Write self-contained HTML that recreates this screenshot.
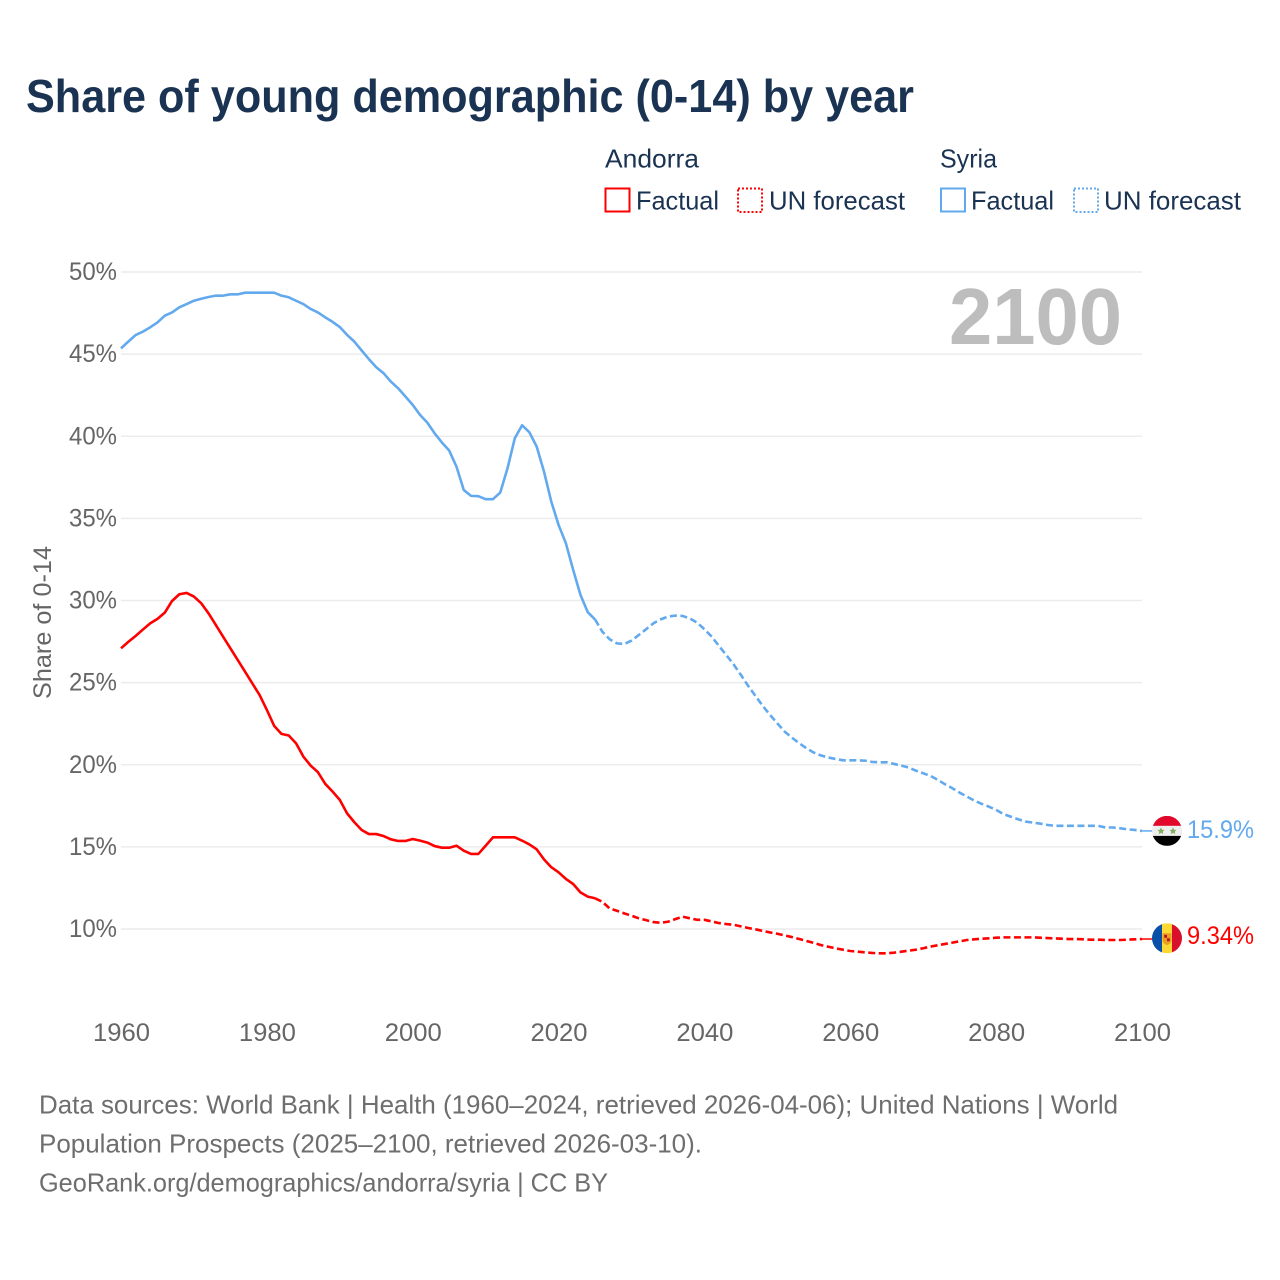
<!DOCTYPE html>
<html lang="en">
<head>
<meta charset="utf-8">
<title>Share of young demographic (0-14) by year</title>
<style>
html,body{margin:0;padding:0;background:#fff;}
svg{display:block;font-family:"Liberation Sans",sans-serif;}
</style>
</head>
<body>
<svg id="chart" xmlns="http://www.w3.org/2000/svg" width="1280" height="1280" viewBox="0 0 1280 1280">
  <rect width="1280" height="1280" fill="#fff"/>
  <text x="26" y="112" font-size="46" font-weight="700" fill="#1a3352" textLength="888" lengthAdjust="spacingAndGlyphs">Share of young demographic (0-14) by year</text>

  <g fill="#1a3352" font-size="26">
    <text x="605" y="167.500" textLength="94" lengthAdjust="spacingAndGlyphs">Andorra</text>
    <rect x="605.500" y="188.500" width="24" height="23" fill="none" stroke="#ff0000" stroke-width="2"/>
    <text x="636" y="209.500" textLength="83" lengthAdjust="spacingAndGlyphs">Factual</text>
    <rect x="738" y="188.500" width="24" height="23.500" fill="none" stroke="#ff0000" stroke-width="2" stroke-dasharray="2 2"/>
    <text x="769" y="209.500" textLength="136" lengthAdjust="spacingAndGlyphs">UN forecast</text>
    <text x="940" y="167.500" textLength="57" lengthAdjust="spacingAndGlyphs">Syria</text>
    <rect x="941" y="188.500" width="24" height="23" fill="none" stroke="#62a9ee" stroke-width="2"/>
    <text x="971" y="209.500" textLength="83" lengthAdjust="spacingAndGlyphs">Factual</text>
    <rect x="1074" y="188.500" width="24" height="23.500" fill="none" stroke="#62a9ee" stroke-width="2" stroke-dasharray="2 2"/>
    <text x="1104" y="209.500" textLength="137" lengthAdjust="spacingAndGlyphs">UN forecast</text>
  </g>

  <g id="grid"></g>
  <g id="yticks"></g>
  <g id="xticks"></g>
  <text transform="translate(51,699) rotate(-90)" font-size="25" fill="#666" textLength="153" lengthAdjust="spacingAndGlyphs">Share of 0-14</text>
  <text id="year-label" x="949" y="344" font-size="80" font-weight="700" fill="#bdbdbd" textLength="173" lengthAdjust="spacingAndGlyphs">2100</text>

  <g id="series"></g>

  <defs>
    <clipPath id="flag-clip"><circle cx="0" cy="0" r="15"/></clipPath>
  </defs>
  <g id="flag-syria">
    <g clip-path="url(#flag-clip)">
      <rect x="-15" y="-15" width="30" height="10" fill="#e2082b"/>
      <rect x="-15" y="-5" width="30" height="10" fill="#eeeeee"/>
      <rect x="-15" y="5" width="30" height="10" fill="#000"/>
      <polygon points="-6,-3.500 -4.800,-1 -2.500,-1 -4.300,0.800 -3.700,3.200 -6,2 -8.300,3.200 -7.700,0.800 -9.500,-1 -7.200,-1" fill="#7fae5f"/>
      <polygon points="6,-3.500 7.200,-1 9.500,-1 7.700,0.800 8.300,3.200 6,2 3.700,3.200 4.300,0.800 2.500,-1 4.800,-1" fill="#7fae5f"/>
    </g>
  </g>
  <g id="flag-andorra">
    <g clip-path="url(#flag-clip)">
      <rect x="-15" y="-15" width="10" height="30" fill="#0a50a8"/>
      <rect x="-5" y="-15" width="10" height="30" fill="#fdd835"/>
      <rect x="5" y="-15" width="10" height="30" fill="#d8102c"/>
      <path d="M-4.500,-5 H4.500 V2 Q4.500,5 0,7 Q-4.500,5 -4.500,2 Z" fill="#e8a020"/>
      <rect x="-2.800" y="-3.500" width="2.800" height="3" fill="#c01030"/>
      <rect x="0" y="0" width="2.800" height="3" fill="#c01030"/>
    </g>
  </g>
  <text id="value-syria" x="1187" y="838" font-size="25" fill="#62a9ee" textLength="67" lengthAdjust="spacingAndGlyphs"></text>
  <text id="value-andorra" x="1187" y="944" font-size="25" fill="#ff0000" textLength="67" lengthAdjust="spacingAndGlyphs"></text>

  <g font-size="26" fill="#6e6e6e">
    <text x="39" y="1113.500" textLength="1079" lengthAdjust="spacingAndGlyphs">Data sources: World Bank | Health (1960–2024, retrieved 2026-04-06); United Nations | World</text>
    <text x="39" y="1152.500" textLength="663" lengthAdjust="spacingAndGlyphs">Population Prospects (2025–2100, retrieved 2026-03-10).</text>
    <text x="39" y="1191.500" textLength="569" lengthAdjust="spacingAndGlyphs">GeoRank.org/demographics/andorra/syria | CC BY</text>
  </g>
</svg>

<script>
const factualStartYear = 1960;
const forecastStartYear = 2025;

const andorraFactual = [
  27.09,27.48,27.84,28.23,28.61,28.88,29.26,29.97,30.38,30.46,
  30.24,29.83,29.22,28.51,27.8,27.09,26.38,25.67,24.96,24.25,
  23.34,22.37,21.88,21.78,21.31,20.5,19.95,19.55,18.84,18.37,
  17.86,17.04,16.5,16.03,15.78,15.78,15.66,15.46,15.36,15.36,
  15.48,15.38,15.26,15.05,14.95,14.95,15.07,14.77,14.57,14.57,
  15.07,15.58,15.58,15.58,15.58,15.38,15.15,14.85,14.24,13.76,
  13.45,13.05,12.74,12.23,11.97,11.87
];
const andorraForecast = [
  11.87,11.66,11.25,11.11,10.95,
  10.81,10.65,10.54,10.42,10.38,10.44,10.6,10.75,10.65,10.56,
  10.56,10.46,10.36,10.3,10.26,10.16,10.06,9.98,9.88,9.79,
  9.71,9.61,9.51,9.39,9.27,9.15,9.02,8.92,8.82,8.74,
  8.66,8.62,8.58,8.54,8.52,8.52,8.56,8.62,8.68,8.74,
  8.83,8.93,9.01,9.09,9.17,9.25,9.33,9.37,9.41,9.43,
  9.47,9.49,9.49,9.49,9.49,9.49,9.47,9.45,9.43,9.41,
  9.39,9.39,9.37,9.35,9.35,9.33,9.33,9.33,9.35,9.37,
  9.39
];
const syriaFactual = [
  45.35,45.76,46.16,46.37,46.63,46.93,47.34,47.54,47.85,48.05,
  48.25,48.37,48.48,48.56,48.56,48.64,48.64,48.74,48.74,48.74,
  48.74,48.74,48.56,48.46,48.25,48.05,47.75,47.54,47.24,46.97,
  46.65,46.17,45.76,45.22,44.69,44.2,43.84,43.33,42.92,42.42,
  41.91,41.3,40.83,40.18,39.62,39.13,38.15,36.73,36.37,36.35,
  36.17,36.17,36.57,38.05,39.88,40.67,40.24,39.37,37.85,36.02,
  34.6,33.49,31.87,30.34,29.29,28.85
];
const syriaForecast = [
  28.85,28.1,27.64,27.39,27.35,
  27.56,27.9,28.25,28.61,28.85,29.02,29.08,29.06,28.91,28.65,
  28.25,27.8,27.23,26.68,26.11,25.47,24.8,24.19,23.58,23.03,
  22.52,22.02,21.65,21.31,21,20.74,20.56,20.44,20.35,20.27,
  20.27,20.27,20.25,20.17,20.15,20.15,20.05,19.95,19.83,19.64,
  19.48,19.32,19.08,18.81,18.57,18.3,18.06,17.82,17.62,17.45,
  17.25,17,16.84,16.68,16.54,16.48,16.42,16.34,16.28,16.28,
  16.28,16.28,16.28,16.28,16.28,16.18,16.18,16.13,16.07,16.03,
  15.97
];
const yTickValues = [50,45,40,35,30,25,20,15,10];
const yTickLabels = ["50%","45%","40%","35%","30%","25%","20%","15%","10%"];
const xTickValues = [1960,1980,2000,2020,2040,2060,2080,2100];
const xTickLabels = ["1960","1980","2000","2020","2040","2060","2080","2100"];
const endValueLabels = ["9.34%","15.9%"];

const SVG_NS = "http://www.w3.org/2000/svg";
const RED = "#ff0000";
const BLUE = "#62a9ee";

function xScale(year) { return 121 + (year - 1960) * (1142 - 121) / 140; }
function yScale(value) { return 272 + (50 - value) * (929 - 272) / 40; }

function linePath(values, startYear) {
  return values.map(function (v, i) {
    return (i ? "L" : "M") + xScale(startYear + i).toFixed(2) + " " + yScale(v).toFixed(2);
  }).join(" ");
}

function make(tag, attrs, parent) {
  const el = document.createElementNS(SVG_NS, tag);
  Object.keys(attrs).forEach(function (k) { el.setAttribute(k, attrs[k]); });
  parent.appendChild(el);
  return el;
}

const grid = document.getElementById("grid");
const yticks = document.getElementById("yticks");
const xticks = document.getElementById("xticks");
const seriesGroup = document.getElementById("series");

yTickValues.forEach(function (v, i) {
  const y = yScale(v);
  const line = make("line", {x1: xScale(1960), x2: xScale(2100), y1: y, y2: y, stroke: "#ececec", "stroke-width": 1.5}, grid);
  
  
  const t = make("text", {x: 117, y: y + 8, "text-anchor": "end", "font-size": 25, fill: "#666", textLength: 48, lengthAdjust: "spacingAndGlyphs"}, yticks);
  
  
  t.textContent = yTickLabels[i];
});

xTickValues.forEach(function (v, i) {
  const t = make("text", {x: xScale(v) + 0.5, y: 1041, "text-anchor": "middle", "font-size": 25, fill: "#666", textLength: 57, lengthAdjust: "spacingAndGlyphs"}, xticks);
  
  
  t.textContent = xTickLabels[i];
});

function drawSeries(values, startYear, color, dashed) {
  const attrs = {d: linePath(values, startYear), fill: "none", stroke: color, "stroke-width": 2.6, "stroke-linejoin": "round"};
  if (dashed) { attrs["stroke-dasharray"] = "7 3.5"; }
  return make("path", attrs, seriesGroup);
}

const andorraSolid = drawSeries(andorraFactual, factualStartYear, RED, false);


const andorraDashed = drawSeries(andorraForecast, forecastStartYear, RED, true);


const syriaSolid = drawSeries(syriaFactual, factualStartYear, BLUE, false);


const syriaDashed = drawSeries(syriaForecast, forecastStartYear, BLUE, true);



const andorraEnd = yScale(andorraForecast[andorraForecast.length - 1]);
const syriaEnd = yScale(syriaForecast[syriaForecast.length - 1]);

const leaderA = make("line", {x1: xScale(2100), x2: 1153, y1: andorraEnd, y2: andorraEnd, stroke: RED, "stroke-width": 1.5}, seriesGroup);


const leaderS = make("line", {x1: xScale(2100), x2: 1153, y1: syriaEnd, y2: syriaEnd, stroke: BLUE, "stroke-width": 1.5}, seriesGroup);



document.getElementById("flag-andorra").setAttribute("transform", "translate(1167," + (andorraEnd - 0.7).toFixed(1) + ")");
document.getElementById("flag-syria").setAttribute("transform", "translate(1167," + syriaEnd.toFixed(1) + ")");

const valueA = document.getElementById("value-andorra");
valueA.textContent = endValueLabels[0];
valueA.setAttribute("y", (andorraEnd + 5).toFixed(1));
const valueS = document.getElementById("value-syria");
valueS.textContent = endValueLabels[1];
valueS.setAttribute("y", (syriaEnd + 7).toFixed(1));
</script>
</body>
</html>
